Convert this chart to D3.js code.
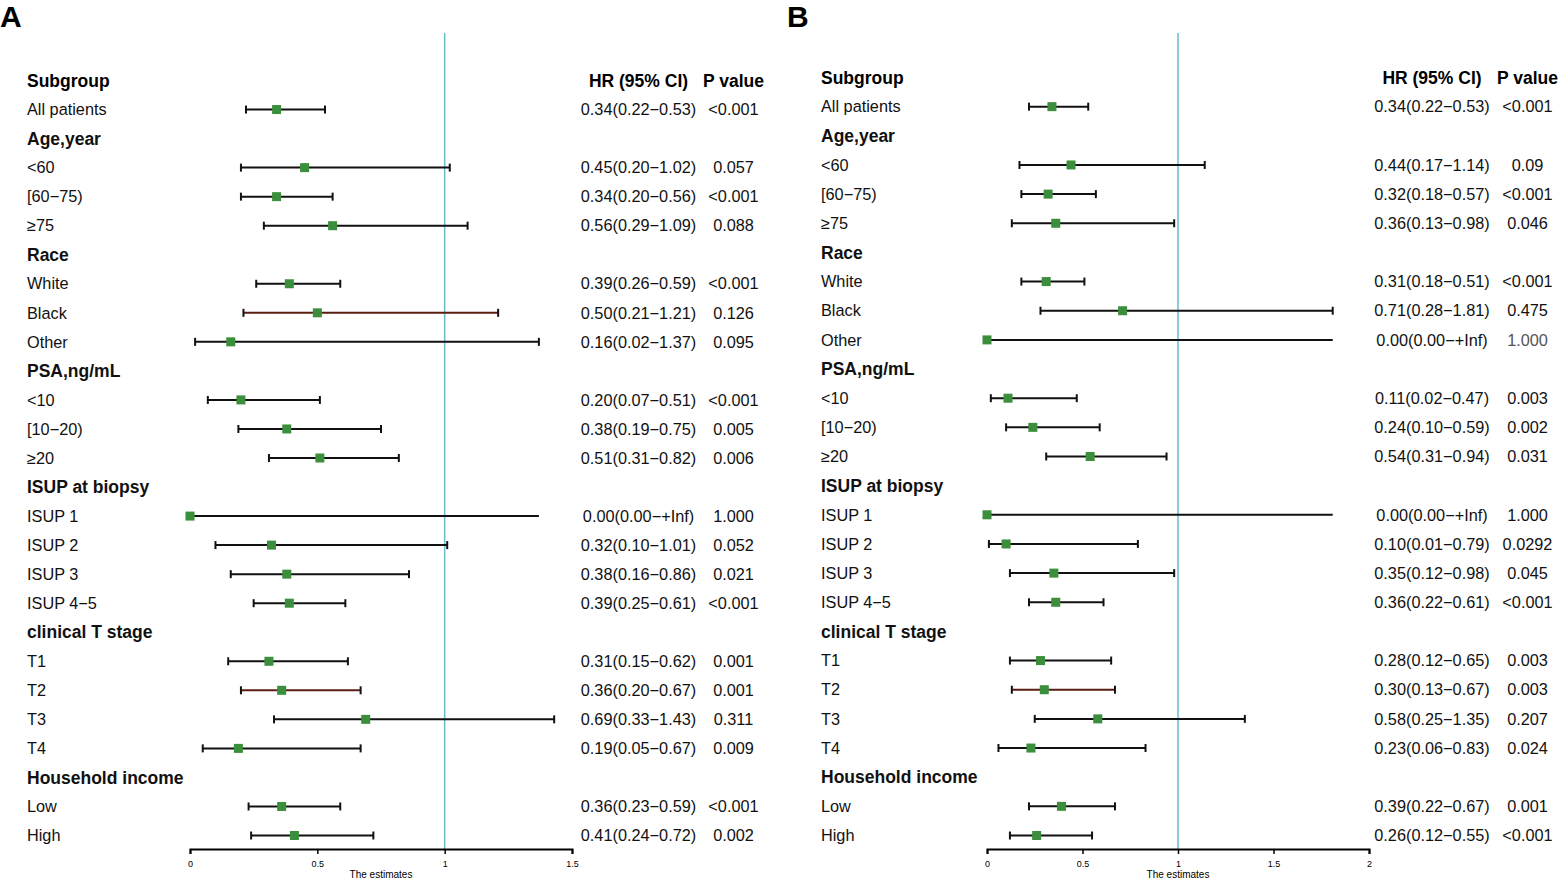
<!DOCTYPE html>
<html>
<head>
<meta charset="utf-8">
<script src="https://cdn.jsdelivr.net/npm/d3@7"></script>
<style>
  body { margin: 0; background: #fff; }
  svg { font-family: "Liberation Sans", Arial, sans-serif; }
</style>
</head>
<body>
<svg id="chart" width="1559" height="880"></svg>
<script>
// rows of both panels (group headers have null values)
const rows = ["All patients", "Age,year", "<60", "[60\u221275)", "\u226575",
  "Race", "White", "Black", "Other",
  "PSA,ng/mL", "<10", "[10\u221220)", "\u226520",
  "ISUP at biopsy", "ISUP 1", "ISUP 2", "ISUP 3", "ISUP 4\u22125",
  "clinical T stage", "T1", "T2", "T3", "T4",
  "Household income", "Low", "High"]
const groups = ["Age,year", "Race", "PSA,ng/mL", "ISUP at biopsy", "clinical T stage", "Household income"]

// panel A
const hrA  = [0.34, null, 0.45, 0.34, 0.56, null, 0.39, 0.50, 0.16, null, 0.20, 0.38, 0.51, null, 0.00, 0.32, 0.38, 0.39, null, 0.31, 0.36, 0.69, 0.19, null, 0.36, 0.41]
const lowA = [0.22, null, 0.20, 0.20, 0.29, null, 0.26, 0.21, 0.02, null, 0.07, 0.19, 0.31, null, 0.00, 0.10, 0.16, 0.25, null, 0.15, 0.20, 0.33, 0.05, null, 0.23, 0.24]
const upA  = [0.53, null, 1.02, 0.56, 1.09, null, 0.59, 1.21, 1.37, null, 0.51, 0.75, 0.82, null, Infinity, 1.01, 0.86, 0.61, null, 0.62, 0.67, 1.43, 0.67, null, 0.59, 0.72]
const pA   = ["<0.001", null, "0.057", "<0.001", "0.088", null, "<0.001", "0.126", "0.095", null, "<0.001", "0.005", "0.006", null, "1.000", "0.052", "0.021", "<0.001", null, "0.001", "0.001", "0.311", "0.009", null, "<0.001", "0.002"]

// panel B
const hrB  = [0.34, null, 0.44, 0.32, 0.36, null, 0.31, 0.71, 0.00, null, 0.11, 0.24, 0.54, null, 0.00, 0.10, 0.35, 0.36, null, 0.28, 0.30, 0.58, 0.23, null, 0.39, 0.26]
const lowB = [0.22, null, 0.17, 0.18, 0.13, null, 0.18, 0.28, 0.00, null, 0.02, 0.10, 0.31, null, 0.00, 0.01, 0.12, 0.22, null, 0.12, 0.13, 0.25, 0.06, null, 0.22, 0.12]
const upB  = [0.53, null, 1.14, 0.57, 0.98, null, 0.51, 1.81, Infinity, null, 0.47, 0.59, 0.94, null, Infinity, 0.79, 0.98, 0.61, null, 0.65, 0.67, 1.35, 0.83, null, 0.67, 0.55]
const pB   = ["<0.001", null, "0.09", "<0.001", "0.046", null, "<0.001", "0.475", "1.000", null, "0.003", "0.002", "0.031", null, "1.000", "0.0292", "0.045", "<0.001", null, "0.003", "0.003", "0.207", "0.024", null, "0.001", "<0.001"]

const ticksA = [0, 0.5, 1, 1.5]
const ticksB = [0, 0.5, 1, 1.5, 2]

const svg = d3.select("#chart")
const axisY = 849
const fsText = 16.3, fsBold = 17.5

function fmt(v) {
  return v === Infinity ? "+Inf" : v.toFixed(2)
}

function drawPanel(p) {
  const g = svg.append("g")

  g.append("text")
    .attr("x", p.letterX).attr("y", 27)
    .attr("font-size", 30).attr("font-weight", "bold")
    .text(p.letter)

  const x = d3.scaleLinear().domain(p.domain).range(p.range)
  const y = d3.scaleLinear().domain([0, rows.length]).range([p.top, 835.5])

  // reference line at 1
  g.append("line")
    .attr("x1", x(1)).attr("x2", x(1))
    .attr("y1", 33).attr("y2", axisY)
    .attr("stroke", "#66bccb").attr("stroke-width", 1.5)

  // header
  g.append("text").attr("x", p.labelX).attr("y", y(0)).attr("dy", "0.35em")
    .attr("font-size", fsBold).attr("font-weight", "bold").text("Subgroup")
  g.append("text").attr("x", p.hrX).attr("y", y(0)).attr("dy", "0.35em")
    .attr("text-anchor", "middle")
    .attr("font-size", fsBold).attr("font-weight", "bold").text("HR (95% CI)")
  g.append("text").attr("x", p.pX).attr("y", y(0)).attr("dy", "0.35em")
    .attr("text-anchor", "middle")
    .attr("font-size", fsBold).attr("font-weight", "bold").text("P value")

  rows.forEach((r, i) => {
    const yy = y(i + 1)
    const isGroup = groups.includes(r)
    g.append("text")
      .attr("x", p.labelX).attr("y", yy).attr("dy", "0.35em")
      .attr("font-size", isGroup ? fsBold : fsText)
      .attr("font-weight", isGroup ? "bold" : "normal")
      .attr("fill", "#111")
      .text(r)
    if (p.hr[i] == null) return

    const lo = p.low[i], up = p.up[i], hr = p.hr[i]
    const inf = up === Infinity
    const x1 = x(lo), x2 = x(inf ? p.clip : up)
    const col = p.brown.includes(r) ? "#5a1e12" : "#111"

    g.append("line")
      .attr("x1", x1).attr("x2", x2).attr("y1", yy).attr("y2", yy)
      .attr("stroke", col).attr("stroke-width", 2)
    if (!inf) {
      [x1, x2].forEach(cx => {
        g.append("line")
          .attr("x1", cx).attr("x2", cx).attr("y1", yy - 4).attr("y2", yy + 4)
          .attr("stroke", "#111").attr("stroke-width", 2)
      })
    }
    g.append("rect")
      .attr("x", x(hr) - 4.5).attr("y", yy - 4.5)
      .attr("width", 9).attr("height", 9)
      .attr("fill", "#3b8e3b")

    g.append("text")
      .attr("x", p.hrX).attr("y", yy).attr("dy", "0.35em")
      .attr("text-anchor", "middle").attr("font-size", fsText).attr("fill", "#111")
      .text(`${fmt(hr)}(${fmt(lo)}\u2212${fmt(up)})`)
    g.append("text")
      .attr("x", p.pX).attr("y", yy).attr("dy", "0.35em")
      .attr("text-anchor", "middle").attr("font-size", fsText)
      .attr("fill", p.muted.includes(r) ? "#555" : "#111")
      .text(p.pv[i])
  })

  // x axis
  const ax = g.append("g")
    .attr("transform", `translate(0,${axisY})`)
    .call(d3.axisBottom(x).tickValues(p.ticks).tickSize(5).tickSizeOuter(5)
      .tickPadding(7).tickFormat(d3.format("~g")))
  ax.select(".domain").attr("stroke-width", 2)
  ax.selectAll(".tick line").attr("stroke-width", 1.5)
  ax.selectAll(".tick text").attr("font-size", 9).attr("font-family", "Liberation Sans, Arial, sans-serif")

  g.append("text")
    .attr("x", (p.range[0] + p.range[1]) / 2).attr("y", 878)
    .attr("text-anchor", "middle").attr("font-size", 10)
    .text("The estimates")
}

drawPanel({
  letter: "A", letterX: 0, labelX: 27, hrX: 638.5, pX: 733.5, top: 80.5,
  domain: [0, 1.5], range: [190, 572], ticks: ticksA, clip: 1.37,
  hr: hrA, low: lowA, up: upA, pv: pA, brown: ["Black", "T2"], muted: []
})

drawPanel({
  letter: "B", letterX: 787, labelX: 821, hrX: 1432, pX: 1527.5, top: 77.5,
  domain: [0, 2], range: [987, 1369], ticks: ticksB, clip: 1.81,
  hr: hrB, low: lowB, up: upB, pv: pB, brown: ["T2"], muted: ["Other"]
})
</script>
</body>
</html>
